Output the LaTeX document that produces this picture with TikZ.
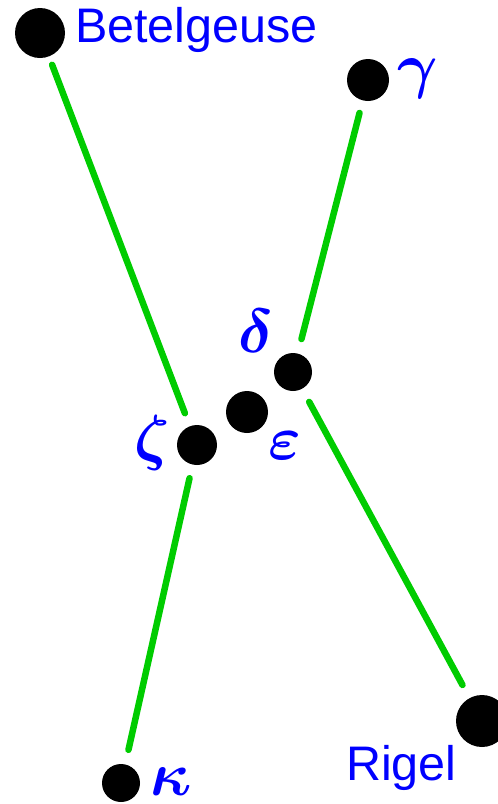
\documentclass[tikz,border=0pt]{standalone}
\usepackage{fix-cm}
\usepackage{amsmath,bm}
\usepackage{fontspec}
\setsansfont{Liberation Sans}
\definecolor{linegreen}{RGB}{0,204,0}
\definecolor{labelblue}{RGB}{0,0,255}
\tikzset{
  star/.style={circle, fill=black, inner sep=0pt, minimum size=#1},
  link/.style={draw=linegreen, line width=6.5pt, line cap=round, shorten <=34pt, shorten >=34pt},
  namelabel/.style={text=labelblue, inner sep=0pt, font=\sffamily\fontsize{48.5}{52}\selectfont},
  greeklabel/.style={text=labelblue, inner sep=0pt, font=\fontsize{62}{64}\selectfont}
}
\begin{document}
\begin{tikzpicture}[x=1pt,y=-1pt]
\useasboundingbox (0,0) rectangle (498,804);
\node[star=50pt] (bet) at (40,33) {};
\node[star=42pt] (gam) at (368,80) {};
\node[star=38pt] (del) at (293,372) {};
\node[star=42pt] (eps) at (247,412) {};
\node[star=40pt] (zet) at (197,445) {};
\node[star=38pt] (kap) at (121,783) {};
\node[star=52pt] (rig) at (482,721) {};
\draw[link] (bet.center) -- (zet.center);
\draw[link] (gam.center) -- (del.center);
\draw[link, shorten >=41pt] (del.center) -- (rig.center);
\draw[link] (zet.center) -- (kap.center);
\node[namelabel, anchor=base west] (tbet) at (75,42) {Betelgeuse};
\node[namelabel, anchor=base west] (trig) at (346,780) {Rigel};
\node[greeklabel] (tgam) at (418,79) {$\bm{\gamma}$};
\node[greeklabel] (tdel) at (256,331) {$\bm{\delta}$};
\node[greeklabel] (teps) at (285,446) {$\bm{\varepsilon}$};
\node[greeklabel] (tzet) at (152,443) {$\bm{\zeta}$};
\node[greeklabel] (tkap) at (171,782) {$\bm{\kappa}$};
\end{tikzpicture}
\end{document}
